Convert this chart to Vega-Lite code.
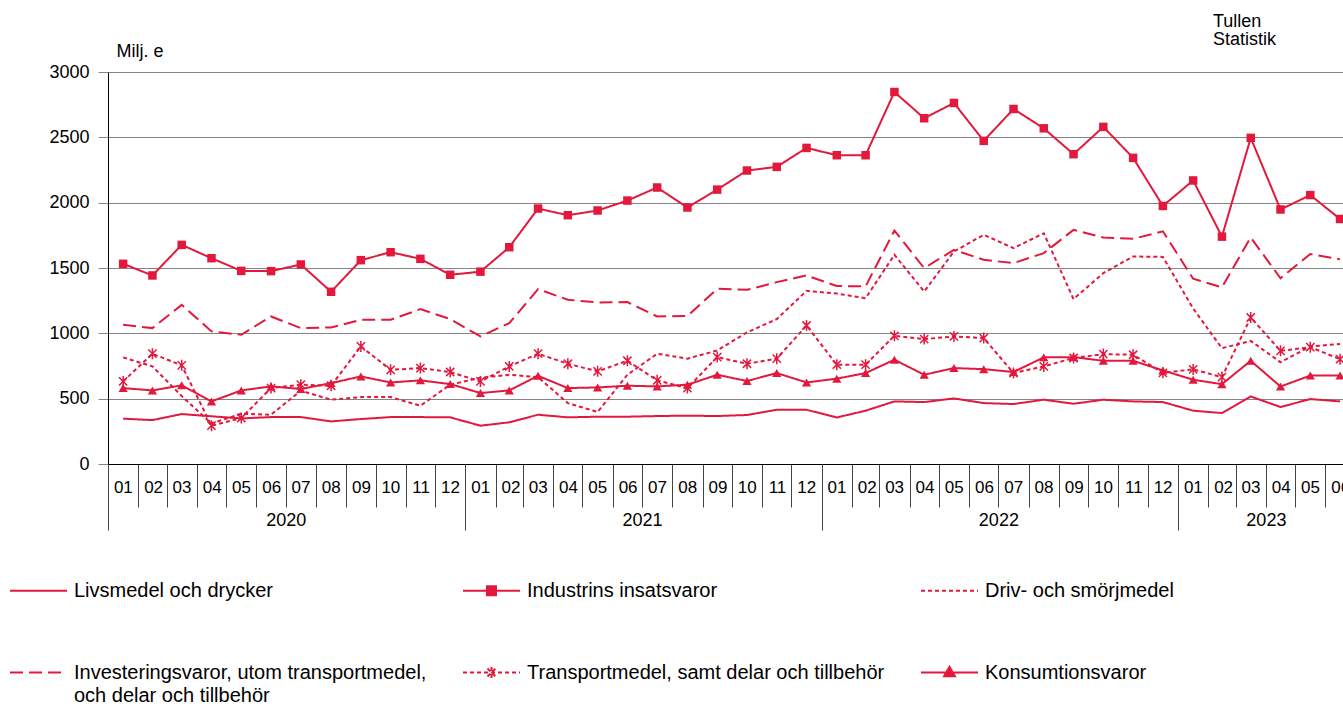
{
  "$schema": "https://vega.github.io/schema/vega-lite/v6.json",
  "width": 1235,
  "height": 392,
  "autosize": {"type": "none"},
  "padding": {"left": 108, "top": 72, "right": 0, "bottom": 240},
  "config": {
    "font": "Liberation Sans",
    "view": {"stroke": null},
    "axis": {"labelColor": "#000", "titleColor": "#000", "labelFont": "Liberation Sans", "titleFont": "Liberation Sans"},
    "legend": {"labelFont": "Liberation Sans"}
  },
  "title": {
    "text": ["Tullen", "Statistik"],
    "anchor": "start",
    "frame": "group",
    "align": "left",
    "dx": 1105,
    "dy": 7,
    "fontSize": 18,
    "fontWeight": "normal",
    "color": "#000",
    "lineHeight": 18,
    "offset": 0
  },
  "data": {
    "values": [
      {"month": "2020-01", "Livsmedel": 347, "Industrins": 1532, "Driv": 816, "Investeringsvaror": 1065, "Transportmedel": 632, "Konsumtionsvaror": 581},
      {"month": "2020-02", "Livsmedel": 336, "Industrins": 1443, "Driv": 747, "Investeringsvaror": 1040, "Transportmedel": 844, "Konsumtionsvaror": 563},
      {"month": "2020-03", "Livsmedel": 382, "Industrins": 1677, "Driv": 520, "Investeringsvaror": 1218, "Transportmedel": 755, "Konsumtionsvaror": 602},
      {"month": "2020-04", "Livsmedel": 365, "Industrins": 1575, "Driv": 310, "Investeringsvaror": 1015, "Transportmedel": 293, "Konsumtionsvaror": 479},
      {"month": "2020-05", "Livsmedel": 349, "Industrins": 1478, "Driv": 385, "Investeringsvaror": 989, "Transportmedel": 352, "Konsumtionsvaror": 563},
      {"month": "2020-06", "Livsmedel": 359, "Industrins": 1476, "Driv": 377, "Investeringsvaror": 1129, "Transportmedel": 581, "Konsumtionsvaror": 594},
      {"month": "2020-07", "Livsmedel": 359, "Industrins": 1527, "Driv": 561, "Investeringsvaror": 1040, "Transportmedel": 607, "Konsumtionsvaror": 574},
      {"month": "2020-08", "Livsmedel": 326, "Industrins": 1318, "Driv": 492, "Investeringsvaror": 1045, "Transportmedel": 599, "Konsumtionsvaror": 619},
      {"month": "2020-09", "Livsmedel": 344, "Industrins": 1560, "Driv": 512, "Investeringsvaror": 1104, "Transportmedel": 900, "Konsumtionsvaror": 670},
      {"month": "2020-10", "Livsmedel": 359, "Industrins": 1621, "Driv": 512, "Investeringsvaror": 1104, "Transportmedel": 721, "Konsumtionsvaror": 624},
      {"month": "2020-11", "Livsmedel": 359, "Industrins": 1570, "Driv": 446, "Investeringsvaror": 1185, "Transportmedel": 734, "Konsumtionsvaror": 640},
      {"month": "2020-12", "Livsmedel": 357, "Industrins": 1448, "Driv": 607, "Investeringsvaror": 1109, "Transportmedel": 704, "Konsumtionsvaror": 612},
      {"month": "2021-01", "Livsmedel": 293, "Industrins": 1472, "Driv": 660, "Investeringsvaror": 976, "Transportmedel": 632, "Konsumtionsvaror": 543},
      {"month": "2021-02", "Livsmedel": 319, "Industrins": 1659, "Driv": 683, "Investeringsvaror": 1078, "Transportmedel": 747, "Konsumtionsvaror": 563},
      {"month": "2021-03", "Livsmedel": 377, "Industrins": 1955, "Driv": 665, "Investeringsvaror": 1338, "Transportmedel": 844, "Konsumtionsvaror": 675},
      {"month": "2021-04", "Livsmedel": 357, "Industrins": 1904, "Driv": 466, "Investeringsvaror": 1257, "Transportmedel": 767, "Konsumtionsvaror": 581},
      {"month": "2021-05", "Livsmedel": 362, "Industrins": 1940, "Driv": 398, "Investeringsvaror": 1236, "Transportmedel": 709, "Konsumtionsvaror": 586},
      {"month": "2021-06", "Livsmedel": 362, "Industrins": 2016, "Driv": 683, "Investeringsvaror": 1239, "Transportmedel": 790, "Konsumtionsvaror": 599},
      {"month": "2021-07", "Livsmedel": 367, "Industrins": 2116, "Driv": 844, "Investeringsvaror": 1129, "Transportmedel": 640, "Konsumtionsvaror": 594},
      {"month": "2021-08", "Livsmedel": 370, "Industrins": 1963, "Driv": 806, "Investeringsvaror": 1132, "Transportmedel": 581, "Konsumtionsvaror": 607},
      {"month": "2021-09", "Livsmedel": 367, "Industrins": 2100, "Driv": 869, "Investeringsvaror": 1341, "Transportmedel": 818, "Konsumtionsvaror": 683},
      {"month": "2021-10", "Livsmedel": 375, "Industrins": 2246, "Driv": 1007, "Investeringsvaror": 1333, "Transportmedel": 767, "Konsumtionsvaror": 635},
      {"month": "2021-11", "Livsmedel": 415, "Industrins": 2274, "Driv": 1109, "Investeringsvaror": 1392, "Transportmedel": 806, "Konsumtionsvaror": 696},
      {"month": "2021-12", "Livsmedel": 415, "Industrins": 2419, "Driv": 1325, "Investeringsvaror": 1443, "Transportmedel": 1060, "Konsumtionsvaror": 624},
      {"month": "2022-01", "Livsmedel": 356, "Industrins": 2363, "Driv": 1304, "Investeringsvaror": 1362, "Transportmedel": 760, "Konsumtionsvaror": 653},
      {"month": "2022-02", "Livsmedel": 408, "Industrins": 2363, "Driv": 1269, "Investeringsvaror": 1359, "Transportmedel": 760, "Konsumtionsvaror": 696},
      {"month": "2022-03", "Livsmedel": 479, "Industrins": 2847, "Driv": 1601, "Investeringsvaror": 1787, "Transportmedel": 981, "Konsumtionsvaror": 798},
      {"month": "2022-04", "Livsmedel": 474, "Industrins": 2646, "Driv": 1320, "Investeringsvaror": 1499, "Transportmedel": 956, "Konsumtionsvaror": 683},
      {"month": "2022-05", "Livsmedel": 502, "Industrins": 2763, "Driv": 1626, "Investeringsvaror": 1639, "Transportmedel": 976, "Konsumtionsvaror": 734},
      {"month": "2022-06", "Livsmedel": 466, "Industrins": 2473, "Driv": 1754, "Investeringsvaror": 1563, "Transportmedel": 964, "Konsumtionsvaror": 726},
      {"month": "2022-07", "Livsmedel": 459, "Industrins": 2717, "Driv": 1652, "Investeringsvaror": 1537, "Transportmedel": 696, "Konsumtionsvaror": 704},
      {"month": "2022-08", "Livsmedel": 492, "Industrins": 2569, "Driv": 1766, "Investeringsvaror": 1614, "Transportmedel": 747, "Konsumtionsvaror": 816},
      {"month": "2022-09", "Livsmedel": 461, "Industrins": 2371, "Driv": 1262, "Investeringsvaror": 1792, "Transportmedel": 811, "Konsumtionsvaror": 818},
      {"month": "2022-10", "Livsmedel": 492, "Industrins": 2580, "Driv": 1461, "Investeringsvaror": 1733, "Transportmedel": 841, "Konsumtionsvaror": 790},
      {"month": "2022-11", "Livsmedel": 479, "Industrins": 2343, "Driv": 1588, "Investeringsvaror": 1723, "Transportmedel": 836, "Konsumtionsvaror": 790},
      {"month": "2022-12", "Livsmedel": 474, "Industrins": 1975, "Driv": 1585, "Investeringsvaror": 1781, "Transportmedel": 698, "Konsumtionsvaror": 716},
      {"month": "2023-01", "Livsmedel": 408, "Industrins": 2170, "Driv": 1190, "Investeringsvaror": 1418, "Transportmedel": 724, "Konsumtionsvaror": 645},
      {"month": "2023-02", "Livsmedel": 390, "Industrins": 1740, "Driv": 886, "Investeringsvaror": 1352, "Transportmedel": 665, "Konsumtionsvaror": 611},
      {"month": "2023-03", "Livsmedel": 517, "Industrins": 2496, "Driv": 942, "Investeringsvaror": 1734, "Transportmedel": 1121, "Konsumtionsvaror": 790},
      {"month": "2023-04", "Livsmedel": 436, "Industrins": 1948, "Driv": 779, "Investeringsvaror": 1421, "Transportmedel": 866, "Konsumtionsvaror": 593},
      {"month": "2023-05", "Livsmedel": 497, "Industrins": 2058, "Driv": 899, "Investeringsvaror": 1607, "Transportmedel": 894, "Konsumtionsvaror": 677},
      {"month": "2023-06", "Livsmedel": 479, "Industrins": 1875, "Driv": 919, "Investeringsvaror": 1566, "Transportmedel": 802, "Konsumtionsvaror": 677}
    ]
  },
  "transform": [
    {"fold": ["Livsmedel", "Industrins", "Driv", "Investeringsvaror", "Transportmedel", "Konsumtionsvaror"], "as": ["series", "value"]}
  ],
  "encoding": {
    "y": {
      "field": "value",
      "type": "quantitative",
      "scale": {"domain": [0, 3000], "nice": false},
      "axis": {
        "values": [0, 500, 1000, 1500, 2000, 2500, 3000],
        "format": "d",
        "grid": true,
        "gridColor": "#858585",
        "gridWidth": 1,
        "tickColor": "#858585",
        "tickSize": 10,
        "domainColor": "#000",
        "domainWidth": 1,
        "labelFontSize": 18,
        "labelPadding": 9,
        "title": "Milj. e",
        "titleAngle": 0,
        "titleX": 8,
        "titleY": -16,
        "titleAlign": "left",
        "titleBaseline": "alphabetic",
        "titleFontSize": 18,
        "titleFontWeight": "normal"
      }
    }
  },
  "layer": [
    {
      "mark": {"type": "line", "strokeWidth": 2},
      "encoding": {
        "x": {
          "field": "month", "type": "temporal", "timeUnit": "utcyearmonth", "bandPosition": 0.5,
          "scale": {"domain": [{"year": 2020, "month": 1, "date": 1, "utc": true}, {"year": 2023, "month": 6, "date": 19, "utc": true}], "nice": false},
          "axis": {
            "title": null,
            "orient": "bottom",
            "tickCount": {"interval": "month", "step": 1},
            "labelExpr": "utcFormat(datum.value, '%m')",
            "grid": false,
            "domain": true,
            "domainColor": "#000",
            "domainWidth": 1,
            "ticks": true,
            "tickSize": 43,
            "tickColor": "#444",
            "tickWidth": 1,
            "labelOffset": 14.85,
            "labelPadding": -20,
            "labelBaseline": "middle",
            "labelAlign": "center",
            "labelFontSize": 17,
            "labelFlush": false,
            "labelOverlap": false,
            "labelBound": false
          }
        },
        "color": {
          "field": "series", "type": "nominal",
          "scale": {"domain": ["Livsmedel", "Industrins", "Driv", "Investeringsvaror", "Transportmedel", "Konsumtionsvaror"], "range": ["#E2183C", "#E2183C", "#E2183C", "#E2183C", "#E2183C", "#E2183C"]},
          "legend": {
            "title": null,
            "orient": "none",
            "legendX": -99,
            "legendY": 489,
            "columns": 3,
            "direction": "horizontal",
            "gridAlign": "each",
            "columnPadding": 32,
            "rowPadding": 42,
            "padding": 0,
            "symbolOffset": 0,
            "symbolSize": 3249,
            "symbolStrokeWidth": 2,
            "labelOffset": 6,
            "labelFontSize": 20,
            "labelColor": "#000",
            "labelLimit": 1000,
            "labelBaseline": "middle",
            "labelExpr": "datum.label == 'Livsmedel' ? 'Livsmedel och drycker' : datum.label == 'Industrins' ? 'Industrins insatsvaror' : datum.label == 'Driv' ? 'Driv- och smörjmedel' : datum.label == 'Investeringsvaror' ? ['Investeringsvaror, utom transportmedel,', 'och delar och tillbehör'] : datum.label == 'Transportmedel' ? 'Transportmedel, samt delar och tillbehör' : 'Konsumtionsvaror'",
            "encode": {
              "symbols": {
                "update": {
                  "shape": {"scale": "shape", "field": "value"},
                  "size": {"value": 3249},
                  "stroke": {"value": "#E2183C"},
                  "fill": {"value": "#E2183C"},
                  "strokeWidth": {"value": 2},
                  "strokeDash": {"scale": "strokeDash", "field": "value"},
                  "opacity": {"value": 1}
                }
              },
              "labels": {
                "update": {
                  "lineHeight": {"value": 23}
                }
              }
            }
          }
        },
        "strokeDash": {
          "field": "series", "type": "nominal",
          "scale": {"domain": ["Livsmedel", "Industrins", "Driv", "Investeringsvaror", "Transportmedel", "Konsumtionsvaror"], "range": [[1, 0], [1, 0], [4, 3], [13, 6], [4, 3], [1, 0]]},
          "legend": {"title": null}
        }
      }
    },
    {
      "transform": [{"filter": "datum.series == 'Industrins'"}],
      "mark": {"type": "point", "shape": "square", "filled": true, "size": 72, "color": "#E2183C", "opacity": 1},
      "encoding": {
        "x": {
          "field": "month", "type": "temporal", "timeUnit": "utcyearmonth", "bandPosition": 0.5,
          "scale": {"domain": [{"year": 2020, "month": 1, "date": 1, "utc": true}, {"year": 2023, "month": 6, "date": 19, "utc": true}], "nice": false},
          "axis": {
            "title": null,
            "orient": "bottom",
            "values": [{"year": 2020, "month": 1, "date": 1, "utc": true}, {"year": 2021, "month": 1, "date": 1, "utc": true}, {"year": 2022, "month": 1, "date": 1, "utc": true}, {"year": 2023, "month": 1, "date": 1, "utc": true}],
            "labels": false,
            "domain": false,
            "grid": false,
            "ticks": true,
            "tickSize": 66,
            "tickColor": "#444",
            "tickWidth": 1
          }
        }
      }
    },
    {
      "transform": [{"filter": "datum.series == 'Konsumtionsvaror'"}],
      "mark": {"type": "point", "shape": "triangle-up", "filled": true, "size": 85, "color": "#E2183C", "opacity": 1},
      "encoding": {
        "x": {
          "field": "month", "type": "temporal", "timeUnit": "utcyearmonth", "bandPosition": 0.5,
          "scale": {"domain": [{"year": 2020, "month": 1, "date": 1, "utc": true}, {"year": 2023, "month": 6, "date": 19, "utc": true}], "nice": false},
          "axis": {
            "title": null,
            "orient": "bottom",
            "values": [{"year": 2020, "month": 7, "date": 1, "utc": true}, {"year": 2021, "month": 7, "date": 1, "utc": true}, {"year": 2022, "month": 7, "date": 1, "utc": true}, {"year": 2023, "month": 4, "date": 1, "utc": true}],
            "labelExpr": "utcFormat(datum.value, '%Y')",
            "domain": false,
            "grid": false,
            "ticks": false,
            "tickSize": 0,
            "labelPadding": 56,
            "labelBaseline": "middle",
            "labelAlign": "center",
            "labelFontSize": 18,
            "labelFlush": false,
            "labelOverlap": false,
            "labelBound": false
          }
        }
      }
    },
    {
      "transform": [{"filter": "datum.series == 'Transportmedel'"}],
      "mark": {"type": "point", "shape": "M0,-1V1M-0.75,-0.75L0.75,0.75M-0.75,0.75L0.75,-0.75", "filled": false, "size": 121, "strokeWidth": 1.5, "color": "#E2183C", "opacity": 1},
      "encoding": {
        "x": {
          "field": "month", "type": "temporal", "timeUnit": "utcyearmonth", "bandPosition": 0.5,
          "scale": {"domain": [{"year": 2020, "month": 1, "date": 1, "utc": true}, {"year": 2023, "month": 6, "date": 19, "utc": true}], "nice": false},
          "axis": null
        }
      }
    },
    {
      "mark": {"type": "point", "size": 0, "opacity": 0},
      "encoding": {
        "x": {
          "field": "month", "type": "temporal", "timeUnit": "utcyearmonth", "bandPosition": 0.5,
          "scale": {"domain": [{"year": 2020, "month": 1, "date": 1, "utc": true}, {"year": 2023, "month": 6, "date": 19, "utc": true}], "nice": false},
          "axis": null
        },
        "color": {"field": "series", "type": "nominal", "legend": {"title": null}},
        "strokeDash": {"field": "series", "type": "nominal", "legend": {"title": null}},
        "shape": {
          "field": "series", "type": "nominal",
          "scale": {
            "domain": ["Livsmedel", "Industrins", "Driv", "Investeringsvaror", "Transportmedel", "Konsumtionsvaror"],
            "range": [
              "M-1,0H1",
              "M-1,0H1M-0.158,-0.158H0.158V0.158H-0.158Z",
              "M-1,0H1",
              "M-1,0H1",
              "M-1,0H1M0,-0.19V0.19M-0.14,-0.14L0.14,0.14M-0.14,0.14L0.14,-0.14",
              "M-1,0H1M0,-0.2L0.19,0.13H-0.19Z"
            ]
          },
          "legend": {"title": null}
        }
      }
    }
  ],
  "resolve": {"axis": {"x": "independent"}}
}
